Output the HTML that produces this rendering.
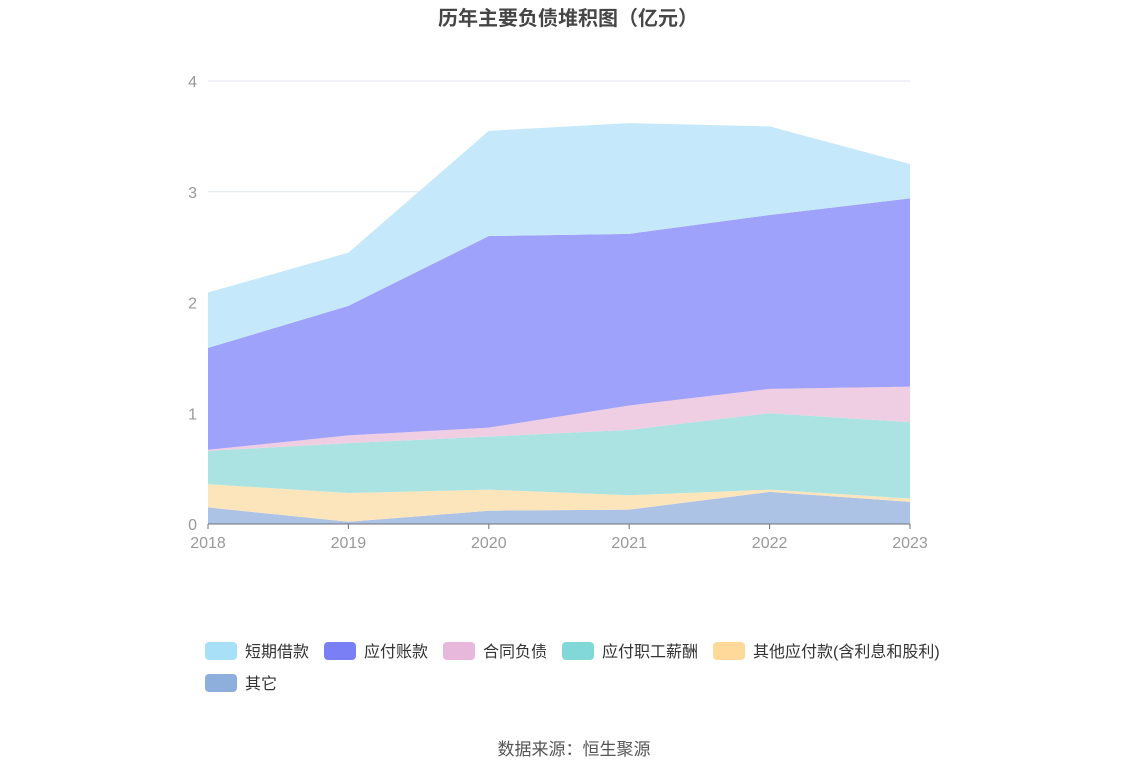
<!DOCTYPE html>
<html><head><meta charset="utf-8"><style>
body{margin:0;background:#fff;width:1148px;height:776px;overflow:hidden;font-family:"Liberation Sans","Noto Sans CJK SC",sans-serif}
</style></head><body>
<svg id="chart" width="1148" height="776" xmlns="http://www.w3.org/2000/svg" font-family="Liberation Sans, Noto Sans CJK SC, sans-serif">
<text x="568" y="25" text-anchor="middle" font-size="20" font-weight="bold" fill="#464646">历年主要负债堆积图（亿元）</text>
<g id="grid"></g><g id="areas"></g><g id="axes"></g><g id="legend"></g>
<text x="574" y="755" text-anchor="middle" font-size="17" fill="#555">数据来源：恒生聚源</text>
</svg>
<script>
const categories=['2018','2019','2020','2021','2022','2023'];
const seriesNames=['其它','其他应付款(含利息和股利)','应付职工薪酬','合同负债','应付账款','短期借款'];
const other=[0.15,0.02,0.12,0.13,0.29,0.2];
const otherPayable=[0.21,0.26,0.19,0.13,0.02,0.03];
const staffPay=[0.3,0.45,0.48,0.59,0.69,0.69];
const contractLiab=[0.01,0.07,0.08,0.22,0.22,0.32];
const accountsPayable=[0.92,1.17,1.73,1.55,1.57,1.70];
const shortLoans=[0.5,0.48,0.95,1.0,0.8,0.31];
const yTicks=[0,1,2,3,4];
const fills=['#adc3e5','#fde5bb','#abe3e3','#efcde3','#9fa2fa','#c5e9fb'];
const swatch=['#8eaedb','#ffd99a','#82d8d8','#e8b8dc','#7b7ff5','#a8e0f8'];
const NS='http://www.w3.org/2000/svg';
const x0=208,x1=910,yb=524,yt=81;
const xs=i=>x0+(x1-x0)*i/(categories.length-1);
const ys=v=>yb-(yb-yt)*v/4;
function mk(t,a,p){const e=document.createElementNS(NS,t);for(const k in a)e.setAttribute(k,a[k]);p.appendChild(e);return e;}
const grid=document.getElementById('grid'),axes=document.getElementById('axes'),areas=document.getElementById('areas'),legend=document.getElementById('legend');
yTicks.forEach(t=>{
 if(t>0){const l=mk('line',{x1:x0,x2:x1,y1:ys(t),y2:ys(t),stroke:'#e0e6f1'},grid);
 
 }
 const tx=mk('text',{x:197,y:ys(t)+6,'text-anchor':'end','font-size':16,fill:'#999'},axes);tx.textContent=t;
 
 
});
const data=[other,otherPayable,staffPay,contractLiab,accountsPayable,shortLoans];
let base=categories.map(()=>0);
data.forEach((s,k)=>{
 const top=base.map((b,i)=>b+s[i]);
 let d='M'+top.map((v,i)=>xs(i)+','+ys(v)).join('L');
 for(let i=categories.length-1;i>=0;i--)d+='L'+xs(i)+','+ys(base[i]);
 const p=mk('path',{d:d+'Z',fill:fills[k]},areas);
 
 
 base=top;
});
const ax=mk('line',{x1:x0,x2:x1,y1:yb,y2:yb,stroke:'#6e7079'},axes);


categories.forEach((c,i)=>{
 mk('line',{x1:xs(i),x2:xs(i),y1:yb,y2:yb+5,stroke:'#6e7079'},axes);
 const t=mk('text',{x:xs(i),y:548,'text-anchor':'middle','font-size':16,fill:'#999'},axes);t.textContent=c;
 
 
});
const legendOrder=[5,4,3,2,1,0];
const pos=[[205,651],[324,651],[443,651],[562,651],[713,651],[205,683]];
legendOrder.forEach((k,j)=>{
 const g=mk('g',{},legend);
 
 
 const [lx,ly]=pos[j];
 mk('rect',{x:lx,y:ly-9,width:32,height:18,rx:4,fill:swatch[k]},g);
 const t=mk('text',{x:lx+40,y:ly+6,'font-size':16,fill:'#333'},g);t.textContent=seriesNames[k];
});
</script>
</body></html>
